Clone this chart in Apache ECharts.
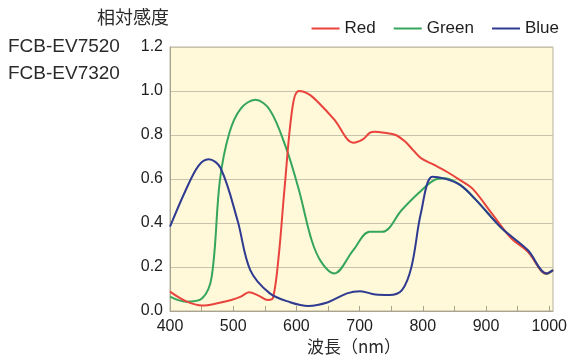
<!DOCTYPE html>
<html><head><meta charset="utf-8">
<script src="https://cdn.jsdelivr.net/npm/echarts@6/dist/echarts.min.js"></script>
<style>html,body{margin:0;padding:0;background:#fff}#c{width:570px;height:360px}</style>
</head><body><div id="c"></div>
<script>
const redWl   = [400,425,451,475,497,512,525,540,555,563,572,581,594,604,620,634,660,690,705,716,724,740,757,772,785,797,818,838,859,879,910,940,966,996,1006];
const redVal  = [0.088,0.045,0.025,0.035,0.05,0.065,0.085,0.07,0.05,0.06,0.25,0.55,0.93,1.0,0.985,0.95,0.87,0.765,0.78,0.81,0.815,0.81,0.80,0.77,0.73,0.695,0.664,0.633,0.595,0.555,0.44,0.33,0.27,0.17,0.185];
const greenWl  = [400,425,451,466,479,494,512,535,558,583,604,624,640,660,690,716,736,767,793,818,835,859,884,925,966,996,1006];
const greenVal = [0.065,0.042,0.058,0.156,0.595,0.81,0.92,0.96,0.914,0.747,0.55,0.323,0.22,0.171,0.277,0.36,0.36,0.46,0.535,0.595,0.603,0.573,0.505,0.376,0.272,0.168,0.186];
const blueWl   = [400,425,445,461,480,507,527,558,590,619,650,680,701,725,747,767,782,797,815,833,859,884,925,966,996,1006];
const blueVal  = [0.383,0.55,0.66,0.69,0.65,0.41,0.186,0.08,0.04,0.023,0.04,0.08,0.09,0.075,0.073,0.095,0.2,0.445,0.61,0.603,0.573,0.505,0.376,0.277,0.171,0.186];
const yTicks = [0,0.2,0.4,0.6,0.8,1.0,1.2];
const seriesNames = ['Red','Green','Blue'];
const colors = ['#e8433c','#35a65a','#2f3b90'];

const zip = (a,b)=>a.map((x,i)=>[x,b[i]]);
const chart = echarts.init(document.getElementById('c'));
const font = 'Liberation Sans, Arial, sans-serif';
chart.setOption({
  animation:false,
  color: colors,
  textStyle:{fontFamily:font},
  legend:{
    right:6, top:15, icon:'rect', itemWidth:28, itemHeight:2, itemGap:18,
    textStyle:{fontSize:17,color:'#1e1e1e',fontFamily:font},
    data: seriesNames
  },
  grid:{left:170,right:2,top:47,bottom:49,show:true,backgroundColor:'#fff8d9',borderColor:'#b8b39c',borderWidth:1},
  xAxis:{
    type:'value', min:400, max:1006, interval:50,
    axisLine:{show:true,lineStyle:{color:'#a8a48f'}},
    axisTick:{show:true,inside:true,length:5,lineStyle:{color:'#a8a48f'}},
    splitLine:{show:false},
    axisLabel:{fontSize:16,color:'#1e1e1e',margin:8,showMaxLabel:false,
      formatter:v=> (v%100===0 ? String(v) : '')}
  },
  yAxis:{
    type:'value', min:0, max:1.2, interval:0.2,
    axisLine:{show:true,lineStyle:{color:'#a8a48f'}},
    axisTick:{show:false},
    splitLine:{show:true,lineStyle:{color:'#c9c3ad',width:1}},
    axisLabel:{fontSize:16,color:'#1e1e1e',margin:7,formatter:v=>v.toFixed(1)}
  },
  graphic:[
    {type:'text',left:97,top:8,style:{text:'相対感度',font:'18px "Noto Sans CJK JP"',fill:'#2a2a2a'}},
    {type:'text',left:8,top:37,style:{text:'FCB-EV7520',font:'19px '+font,fill:'#2a2a2a'}},
    {type:'text',left:8,top:64,style:{text:'FCB-EV7320',font:'19px '+font,fill:'#2a2a2a'}},
    {type:'text',left:307,top:338,style:{text:'波長（nm）',font:'17px "Noto Sans CJK JP"',fill:'#2a2a2a'}}
  ],
  series:[
    {name:'Red',type:'line',data:zip(redWl,redVal),smooth:0.35,showSymbol:false,lineStyle:{width:2},z:3},
    {name:'Green',type:'line',data:zip(greenWl,greenVal),smooth:0.35,showSymbol:false,lineStyle:{width:2},z:2},
    {name:'Blue',type:'line',data:zip(blueWl,blueVal),smooth:0.35,showSymbol:false,lineStyle:{width:2},z:4}
  ]
});
</script></body></html>
